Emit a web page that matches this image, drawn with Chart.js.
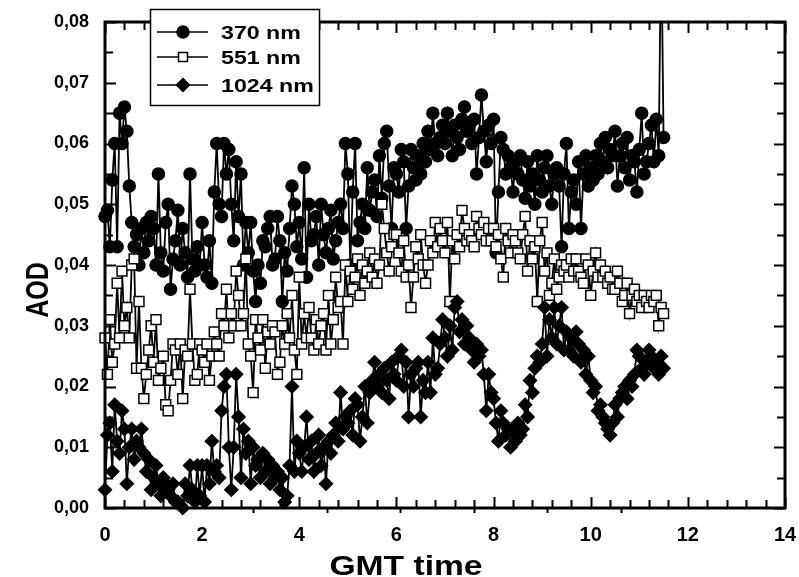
<!DOCTYPE html>
<html lang="en">
<head>
<meta charset="UTF-8">
<title>AOD vs GMT time</title>
<script src="https://cdn.jsdelivr.net/npm/chart.js"></script>
<style>
  html, body { margin: 0; padding: 0; background: #fff; }
  #wrap { width: 799px; height: 577px; }
</style>
</head>
<body>
<div id="wrap"><canvas id="aodChart"></canvas></div>
<script>
// GMT time (hours) of each measurement
const times = [
  0, 0.05, 0.1, 0.15, 0.2, 0.25, 0.3, 0.35, 0.4, 0.45,
  0.5, 0.55, 0.6, 0.65, 0.7, 0.75, 0.8, 0.85, 0.9, 0.95,
  1, 1.05, 1.1, 1.15, 1.2, 1.25, 1.3, 1.35, 1.4, 1.45,
  1.5, 1.55, 1.6, 1.65, 1.7, 1.75, 1.8, 1.85, 1.9, 1.95,
  2, 2.05, 2.1, 2.15, 2.2, 2.25, 2.3, 2.35, 2.4, 2.45,
  2.5, 2.55, 2.6, 2.65, 2.7, 2.75, 2.8, 2.85, 2.9, 2.95,
  3, 3.05, 3.1, 3.15, 3.2, 3.25, 3.3, 3.35, 3.4, 3.45,
  3.5, 3.55, 3.6, 3.65, 3.7, 3.75, 3.8, 3.85, 3.9, 3.95,
  4, 4.05, 4.1, 4.15, 4.2, 4.25, 4.3, 4.35, 4.4, 4.45,
  4.5, 4.55, 4.6, 4.65, 4.7, 4.75, 4.8, 4.85, 4.9, 4.95,
  5, 5.05, 5.1, 5.15, 5.2, 5.25, 5.3, 5.35, 5.4, 5.45,
  5.5, 5.55, 5.6, 5.65, 5.7, 5.75, 5.8, 5.85, 5.9, 5.95,
  6, 6.05, 6.1, 6.15, 6.2, 6.25, 6.3, 6.35, 6.4, 6.45,
  6.5, 6.55, 6.6, 6.65, 6.7, 6.75, 6.8, 6.85, 6.9, 6.95,
  7, 7.05, 7.1, 7.15, 7.2, 7.25, 7.3, 7.35, 7.4, 7.45,
  7.5, 7.55, 7.6, 7.65, 7.7, 7.75, 7.8, 7.85, 7.9, 7.95,
  8, 8.05, 8.1, 8.15, 8.2, 8.25, 8.3, 8.35, 8.4, 8.45,
  8.5, 8.55, 8.6, 8.65, 8.7, 8.75, 8.8, 8.85, 8.9, 8.95,
  9, 9.05, 9.1, 9.15, 9.2, 9.25, 9.3, 9.35, 9.4, 9.45,
  9.5, 9.55, 9.6, 9.65, 9.7, 9.75, 9.8, 9.85, 9.9, 9.95,
  10, 10.05, 10.1, 10.15, 10.2, 10.25, 10.3, 10.35, 10.4, 10.45,
  10.5, 10.55, 10.6, 10.65, 10.7, 10.75, 10.8, 10.85, 10.9, 10.95,
  11, 11.05, 11.1, 11.15, 11.2, 11.25, 11.3, 11.35, 11.4, 11.45,
  11.5
];

const aod370 = [
  0.048, 0.049, 0.043, 0.054, 0.060, 0.043, 0.065, 0.060, 0.066, 0.062,
  0.053, 0.047, 0.043, 0.045, 0.040, 0.046, 0.042, 0.047, 0.044, 0.048,
  0.046, 0.040, 0.055, 0.042, 0.039, 0.047, 0.050, 0.036, 0.041, 0.044,
  0.049, 0.040, 0.046, 0.042, 0.038, 0.055, 0.041, 0.039, 0.043, 0.040,
  0.047, 0.040, 0.038, 0.044, 0.037, 0.052, 0.060, 0.050, 0.048, 0.060,
  0.055, 0.059, 0.050, 0.044, 0.057, 0.048, 0.055, 0.040, 0.047, 0.042,
  0.047, 0.039, 0.034, 0.040, 0.037, 0.044, 0.043, 0.046, 0.048, 0.040,
  0.041, 0.048, 0.044, 0.034, 0.042, 0.039, 0.046, 0.053, 0.050, 0.043,
  0.047, 0.041, 0.056, 0.038, 0.050, 0.044, 0.045, 0.048, 0.040, 0.050,
  0.045, 0.042, 0.046, 0.049, 0.041, 0.044, 0.047, 0.050, 0.046, 0.060,
  0.055, 0.040, 0.052, 0.060, 0.044, 0.047, 0.050, 0.046, 0.056, 0.049,
  0.052, 0.054, 0.048, 0.058, 0.051, 0.060, 0.062, 0.053, 0.046, 0.056,
  0.055, 0.052, 0.059, 0.057, 0.046, 0.053, 0.059, 0.056, 0.054, 0.058,
  0.055, 0.060, 0.057, 0.062, 0.059, 0.065, 0.060, 0.058, 0.061, 0.063,
  0.060, 0.065, 0.062, 0.058, 0.063, 0.061, 0.059, 0.064, 0.066, 0.062,
  0.063, 0.060, 0.064, 0.055, 0.061, 0.068, 0.062, 0.057, 0.063, 0.060,
  0.064, 0.042, 0.052, 0.061, 0.059, 0.055, 0.058, 0.056, 0.052, 0.057,
  0.055, 0.058, 0.054, 0.051, 0.057, 0.053, 0.055, 0.050, 0.058, 0.054,
  0.052, 0.056, 0.058, 0.053, 0.050, 0.055, 0.056, 0.053, 0.043, 0.055,
  0.060, 0.046, 0.052, 0.054, 0.050, 0.057, 0.046, 0.055, 0.058, 0.053,
  0.056, 0.054, 0.058, 0.055, 0.060, 0.057, 0.061, 0.056, 0.059, 0.058,
  0.062, 0.053, 0.058, 0.060, 0.056, 0.061, 0.054, 0.058, 0.057, 0.052,
  0.059, 0.065, 0.055, 0.057, 0.060, 0.063, 0.057, 0.064, 0.058, 0.095,
  0.061
];

const aod551 = [
  0.028, 0.022, 0.031, 0.024, 0.027, 0.037, 0.028, 0.039, 0.030, 0.033,
  0.028, 0.040, 0.041, 0.023, 0.034, 0.023, 0.018, 0.022, 0.026, 0.030,
  0.024, 0.031, 0.021, 0.023, 0.025, 0.017, 0.016, 0.021, 0.027, 0.026,
  0.022, 0.027, 0.018, 0.026, 0.025, 0.036, 0.027, 0.021, 0.022, 0.027,
  0.026, 0.024, 0.027, 0.021, 0.025, 0.029, 0.027, 0.025, 0.032, 0.030,
  0.036, 0.028, 0.032, 0.030, 0.039, 0.035, 0.030, 0.032, 0.041, 0.027,
  0.025, 0.019, 0.031, 0.028, 0.026, 0.031, 0.023, 0.029, 0.027, 0.030,
  0.029, 0.022, 0.024, 0.030, 0.027, 0.032, 0.028, 0.035, 0.026, 0.022,
  0.038, 0.027, 0.032, 0.028, 0.033, 0.028, 0.026, 0.031, 0.027, 0.030,
  0.032, 0.026, 0.035, 0.027, 0.031, 0.038, 0.033, 0.034, 0.027, 0.040,
  0.034, 0.039, 0.036, 0.038, 0.041, 0.035, 0.040, 0.037, 0.039, 0.042,
  0.038, 0.041, 0.037, 0.040, 0.050, 0.046, 0.042, 0.039, 0.043, 0.045,
  0.045, 0.042, 0.039, 0.044, 0.038, 0.040, 0.033, 0.038, 0.043, 0.041,
  0.045, 0.040, 0.037, 0.040, 0.044, 0.042, 0.047, 0.043, 0.046, 0.044,
  0.042, 0.047, 0.034, 0.044, 0.041, 0.045, 0.043, 0.049, 0.046, 0.044,
  0.045, 0.044, 0.043, 0.048, 0.046, 0.045, 0.047, 0.044, 0.046, 0.044,
  0.046, 0.043, 0.045, 0.041, 0.038, 0.046, 0.044, 0.042, 0.045, 0.044,
  0.042, 0.041, 0.045, 0.048, 0.039, 0.044, 0.041, 0.043, 0.034, 0.044,
  0.047, 0.039, 0.042, 0.035, 0.037, 0.041, 0.036, 0.038, 0.040, 0.039,
  0.040, 0.038, 0.041, 0.039, 0.041, 0.039, 0.038, 0.037, 0.041, 0.040,
  0.035, 0.039, 0.042, 0.038, 0.040, 0.038, 0.039, 0.037, 0.038, 0.036,
  0.036, 0.039, 0.037, 0.034, 0.035, 0.037, 0.032, 0.035, 0.036, 0.034,
  0.035, 0.033, 0.035, 0.034, 0.033, 0.035, 0.034, 0.035, 0.030, 0.033,
  0.032
];

const aod1024 = [
  0.003, 0.012, 0.014, 0.006, 0.017, 0.011, 0.009, 0.016, 0.013, 0.004,
  0.010, 0.013, 0.008, 0.011, 0.010, 0.013, 0.009, 0.006, 0.008, 0.003,
  0.005, 0.007, 0.004, 0.002, 0.005, 0.004, 0.003, 0.002, 0.004, 0.001,
  0.001, 0.0005, 0.000, 0.004, 0.002, 0.007, 0.003, 0.001, 0.007, 0.002,
  0.007, 0.001, 0.007, 0.004, 0.011, 0.006, 0.007, 0.005, 0.016, 0.020,
  0.022, 0.010, 0.003, 0.010, 0.022, 0.015, 0.005, 0.013, 0.009, 0.011,
  0.004, 0.010, 0.007, 0.008, 0.005, 0.009, 0.006, 0.008, 0.004, 0.007,
  0.005, 0.006, 0.003, 0.005, 0.001, 0.002, 0.007, 0.020, 0.006, 0.011,
  0.009, 0.006, 0.010, 0.015, 0.008, 0.011, 0.006, 0.009, 0.012, 0.007,
  0.010, 0.004, 0.011, 0.009, 0.012, 0.014, 0.011, 0.019, 0.013, 0.015,
  0.014, 0.016, 0.012, 0.018, 0.017, 0.011, 0.015, 0.020, 0.014, 0.019,
  0.021, 0.024, 0.020, 0.022, 0.019, 0.023, 0.021, 0.018, 0.024, 0.022,
  0.021, 0.025, 0.026, 0.020, 0.024, 0.015, 0.022, 0.020, 0.023, 0.024,
  0.015, 0.021, 0.019, 0.024, 0.019, 0.028, 0.022, 0.023, 0.027, 0.031,
  0.028, 0.025, 0.030, 0.026, 0.033, 0.034, 0.029, 0.031, 0.027, 0.030,
  0.028, 0.026, 0.024, 0.027, 0.025, 0.026, 0.022, 0.016, 0.022, 0.019,
  0.018, 0.014, 0.011, 0.016, 0.014, 0.012, 0.013, 0.010, 0.013, 0.011,
  0.014, 0.012, 0.013, 0.017, 0.015, 0.021, 0.019, 0.023, 0.025, 0.024,
  0.027, 0.033, 0.025, 0.031, 0.028, 0.033, 0.027, 0.030, 0.033, 0.026,
  0.029, 0.026, 0.028, 0.025, 0.029, 0.027, 0.024, 0.026, 0.022, 0.025,
  0.021, 0.019, 0.020, 0.016, 0.017, 0.015, 0.014, 0.013, 0.012, 0.014,
  0.017, 0.015, 0.018, 0.019, 0.020, 0.018, 0.021, 0.020, 0.022, 0.026,
  0.025, 0.023, 0.022, 0.024, 0.026, 0.025, 0.023, 0.024, 0.022, 0.025,
  0.023
];

const xTickLabels = ['0', '2', '4', '6', '8', '10', '12', '14'];
const yTickLabels = ['0,00', '0,01', '0,02', '0,03', '0,04', '0,05', '0,06', '0,07', '0,08'];
const legendLabels = ['370 nm', '551 nm', '1024 nm'];
// short marks under the time axis
const markTimes = [3.05, 4.58, 6.08, 7.59, 9.11, 10.62];

const FONT = "'Liberation Sans', Arial, sans-serif";

function toPoints(values) {
  return times.map((t, i) => ({ x: t, y: values[i] }));
}

// stretched bold text, used for the legend and the axis titles
function wideText(ctx, text, x, y, size, stretch, align, angle) {
  ctx.save();
  ctx.translate(x, y);
  if (angle) ctx.rotate(angle);
  if (angle) ctx.scale(1, stretch); else ctx.scale(stretch, 1);
  ctx.font = 'bold ' + size + 'px ' + FONT;
  ctx.fillStyle = '#000';
  ctx.textAlign = align;
  ctx.textBaseline = 'alphabetic';
  ctx.fillText(text, 0, 0);
  ctx.restore();
}

function drawMarker(ctx, style, x, y) {
  ctx.save();
  ctx.lineWidth = 1.5;
  ctx.strokeStyle = '#000';
  ctx.beginPath();
  if (style === 'circle') {
    ctx.arc(x, y, 6, 0, Math.PI * 2);
    ctx.fillStyle = '#000';
  } else if (style === 'rect') {
    ctx.rect(x - 4.5, y - 4.5, 9, 9);
    ctx.fillStyle = '#fff';
  } else {
    ctx.moveTo(x, y - 6.5);
    ctx.lineTo(x + 6.5, y);
    ctx.lineTo(x, y + 6.5);
    ctx.lineTo(x - 6.5, y);
    ctx.closePath();
    ctx.fillStyle = '#000';
  }
  ctx.fill();
  ctx.stroke();
  ctx.restore();
}

const framePlugin = {
  id: 'frame',
  afterDatasetsDraw(chart) {
    const { ctx, chartArea: a, scales } = chart;
    const xs = scales.x, ys = scales.y;
    ctx.save();
    ctx.strokeStyle = '#000';

    // inward ticks on all four sides
    ctx.lineWidth = 2;
    ctx.beginPath();
    for (let i = 0; i <= 35; i++) {
      const px = Math.round(xs.getPixelForValue(i * 0.4)) + 0.5;
      const len = i % 5 === 0 ? 11 : 8;
      ctx.moveTo(px, a.top); ctx.lineTo(px, a.top + len);
      ctx.moveTo(px, a.bottom); ctx.lineTo(px, a.bottom - len);
    }
    for (let i = 0; i <= 16; i++) {
      const py = Math.round(ys.getPixelForValue(i * 0.005)) + 0.5;
      const len = i % 2 === 0 ? 11 : 8;
      ctx.moveTo(a.left, py); ctx.lineTo(a.left + len, py);
      ctx.moveTo(a.right, py); ctx.lineTo(a.right - len, py);
    }
    markTimes.forEach(t => {
      const px = Math.round(xs.getPixelForValue(t)) + 0.5;
      ctx.moveTo(px, a.bottom); ctx.lineTo(px, a.bottom + 5);
    });
    ctx.stroke();

    ctx.lineWidth = 3;
    ctx.strokeRect(a.left, a.top, a.right - a.left, a.bottom - a.top);
    ctx.restore();
  },
  afterDraw(chart) {
    const { ctx } = chart;

    // legend box
    ctx.save();
    ctx.fillStyle = '#fff';
    ctx.fillRect(150, 9, 169, 96);
    ctx.lineWidth = 1.5;
    ctx.strokeStyle = '#000';
    ctx.strokeRect(150.5, 9.5, 169, 96);
    const styles = ['circle', 'rect', 'rectRot'];
    const rowY = [32, 57, 85];
    legendLabels.forEach((label, i) => {
      ctx.beginPath();
      ctx.lineWidth = 1.5;
      ctx.moveTo(157, rowY[i]);
      ctx.lineTo(208, rowY[i]);
      ctx.stroke();
      drawMarker(ctx, styles[i], 183, rowY[i]);
      wideText(ctx, label, 221, rowY[i] + 6.5, 19, 1.22, 'left');
    });
    ctx.restore();

    // axis titles
    wideText(ctx, 'GMT time', 406, 575, 28, 1.2, 'center');
    wideText(ctx, 'AOD', 48, 290, 25, 1.22, 'center', -Math.PI / 2);
  }
};

const common = {
  showLine: true,
  borderColor: '#000',
  borderWidth: 1.8,
  pointBorderColor: '#000',
  pointBorderWidth: 1.5,
  pointHoverRadius: 0,
  clip: { left: 10, right: 10, top: 0, bottom: 10 }
};

new Chart(document.getElementById('aodChart'), {
  type: 'scatter',
  data: {
    datasets: [
      Object.assign({}, common, {
        label: legendLabels[0], data: toPoints(aod370), order: 3,
        pointStyle: 'circle', pointRadius: 6, pointBackgroundColor: '#000'
      }),
      Object.assign({}, common, {
        label: legendLabels[1], data: toPoints(aod551), order: 2,
        pointStyle: 'rect', pointRadius: 7, pointBackgroundColor: '#fff'
      }),
      Object.assign({}, common, {
        label: legendLabels[2], data: toPoints(aod1024), order: 1,
        pointStyle: 'rectRot', pointRadius: 6.5, pointBackgroundColor: '#000'
      })
    ]
  },
  options: {
    responsive: true,
    maintainAspectRatio: false,
    animation: false,
    layout: { padding: { top: 22, right: 14, left: 0, bottom: 0 } },
    plugins: { legend: { display: false }, tooltip: { enabled: false } },
    scales: {
      x: {
        type: 'linear', min: 0, max: 14,
        grid: { display: false, drawTicks: false },
        border: { display: false },
        afterFit: s => { s.height = 69; s.paddingLeft = 0; s.paddingRight = 0; },
        ticks: {
          stepSize: 2, padding: 15, color: '#000', maxRotation: 0,
          font: { family: FONT, size: 20, weight: 'bold' },
          callback: (v, i) => xTickLabels[i]
        }
      },
      y: {
        type: 'linear', min: 0, max: 0.08,
        grid: { display: false, drawTicks: false },
        border: { display: false },
        afterFit: s => { s.width = 105; s.paddingTop = 0; s.paddingBottom = 0; },
        ticks: {
          stepSize: 0.01, padding: 16, color: '#000',
          font: { family: FONT, size: 18, weight: 'bold' },
          callback: (v, i) => yTickLabels[i]
        }
      }
    }
  },
  plugins: [framePlugin]
});
</script>
</body>
</html>
